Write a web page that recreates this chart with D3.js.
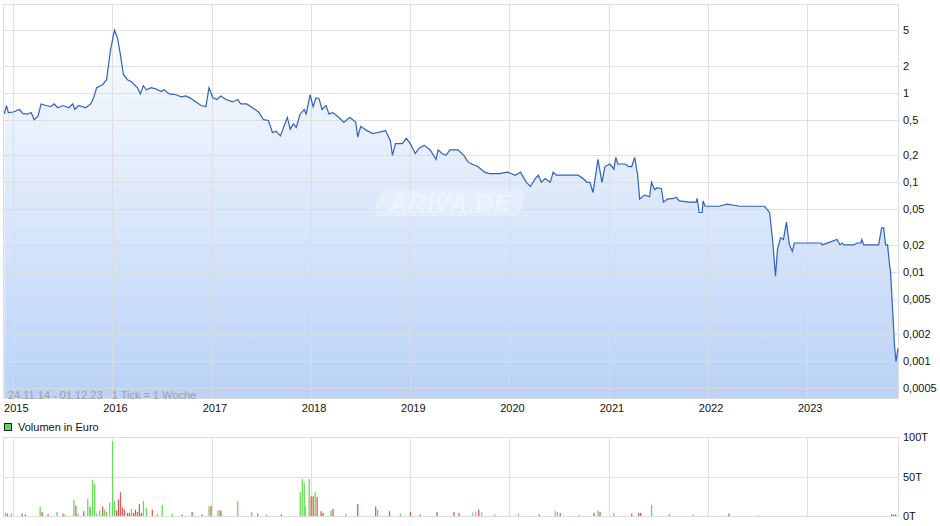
<!DOCTYPE html>
<html>
<head>
<meta charset="utf-8">
<script src="https://cdn.jsdelivr.net/npm/d3@7"></script>
<style>
  body { margin: 0; background: #fff; }
  text { font-family: "Liberation Sans", Arial, sans-serif; }
</style>
</head>
<body>
<svg id="chart" width="940" height="526"></svg>
<script>
// Price per week (decimal year, EUR)
const priceData = [
  [2014.91,0.58],[2014.93,0.72],[2014.95,0.60],[2015.00,0.61],[2015.06,0.65],[2015.10,0.58],
  [2015.15,0.58],[2015.18,0.60],[2015.21,0.50],[2015.25,0.55],[2015.28,0.75],[2015.33,0.72],
  [2015.38,0.70],[2015.41,0.75],[2015.45,0.68],[2015.50,0.72],[2015.56,0.68],[2015.60,0.75],
  [2015.62,0.65],[2015.66,0.72],[2015.73,0.68],[2015.78,0.75],[2015.81,0.88],[2015.84,1.14],
  [2015.90,1.23],[2015.94,1.40],[2015.98,3.0],[2016.02,5.0],[2016.05,4.1],[2016.08,2.65],
  [2016.11,1.6],[2016.15,1.4],[2016.19,1.33],[2016.22,1.23],[2016.25,1.14],[2016.28,0.97],
  [2016.31,1.2],[2016.34,1.08],[2016.39,1.14],[2016.44,1.10],[2016.49,1.03],[2016.52,1.08],
  [2016.57,0.97],[2016.64,0.95],[2016.69,0.90],[2016.74,0.92],[2016.79,0.86],[2016.84,0.79],
  [2016.89,0.72],[2016.94,0.70],[2016.97,1.14],[2017.01,0.88],[2017.05,0.84],[2017.09,0.92],
  [2017.14,0.84],[2017.21,0.79],[2017.26,0.84],[2017.29,0.75],[2017.35,0.75],[2017.41,0.68],
  [2017.47,0.61],[2017.52,0.50],[2017.57,0.49],[2017.61,0.36],[2017.65,0.37],[2017.69,0.33],
  [2017.73,0.43],[2017.76,0.53],[2017.79,0.39],[2017.82,0.45],[2017.85,0.41],[2017.89,0.58],
  [2017.93,0.65],[2017.95,0.58],[2017.99,0.95],[2018.02,0.70],[2018.05,0.88],[2018.08,0.86],
  [2018.11,0.65],[2018.15,0.72],[2018.18,0.58],[2018.22,0.60],[2018.28,0.53],[2018.33,0.47],
  [2018.39,0.53],[2018.45,0.47],[2018.47,0.32],[2018.50,0.42],[2018.56,0.38],[2018.62,0.35],
  [2018.67,0.36],[2018.72,0.37],[2018.75,0.38],[2018.80,0.29],[2018.82,0.20],[2018.85,0.27],
  [2018.92,0.27],[2018.96,0.31],[2019.00,0.27],[2019.05,0.21],[2019.09,0.24],[2019.14,0.26],
  [2019.20,0.23],[2019.26,0.18],[2019.28,0.23],[2019.32,0.21],[2019.36,0.20],[2019.40,0.23],
  [2019.48,0.23],[2019.54,0.20],[2019.58,0.17],[2019.62,0.16],[2019.68,0.15],[2019.75,0.13],
  [2019.80,0.125],[2019.90,0.125],[2019.98,0.13],[2020.06,0.12],[2020.11,0.13],[2020.17,0.10],
  [2020.21,0.09],[2020.26,0.11],[2020.29,0.12],[2020.32,0.10],[2020.36,0.11],[2020.41,0.10],
  [2020.44,0.13],[2020.47,0.12],[2020.53,0.12],[2020.61,0.12],[2020.69,0.12],[2020.74,0.11],
  [2020.78,0.10],[2020.81,0.10],[2020.84,0.077],[2020.89,0.18],[2020.93,0.10],[2020.96,0.15],
  [2021.01,0.16],[2021.05,0.14],[2021.07,0.19],[2021.09,0.16],[2021.16,0.16],[2021.20,0.15],
  [2021.23,0.15],[2021.26,0.19],[2021.29,0.12],[2021.31,0.065],[2021.36,0.072],[2021.41,0.069],
  [2021.43,0.10],[2021.46,0.083],[2021.49,0.087],[2021.53,0.085],[2021.55,0.060],[2021.59,0.065],
  [2021.65,0.066],[2021.68,0.068],[2021.71,0.062],[2021.81,0.060],[2021.88,0.060],[2021.89,0.066],
  [2021.91,0.046],[2021.94,0.046],[2021.95,0.062],[2021.97,0.054],[2022.11,0.054],[2022.19,0.057],
  [2022.32,0.054],[2022.57,0.054],[2022.62,0.046],[2022.65,0.023],[2022.68,0.009],[2022.70,0.018],
  [2022.73,0.024],[2022.76,0.023],[2022.79,0.036],[2022.82,0.020],[2022.85,0.017],[2022.87,0.021],
  [2023.14,0.021],[2023.15,0.020],[2023.30,0.023],[2023.33,0.020],[2023.35,0.021],[2023.37,0.020],
  [2023.47,0.020],[2023.50,0.021],[2023.54,0.021],[2023.55,0.023],[2023.57,0.020],[2023.72,0.020],
  [2023.75,0.031],[2023.77,0.031],[2023.79,0.020],[2023.81,0.020],[2023.83,0.012],[2023.84,0.010],
  [2023.88,0.0015],[2023.895,0.001],[2023.915,0.0014]
];

// Weekly volume (decimal year, thousand EUR, direction g/r/n)
const volumeData = [
  [2014.92,4,"g"],[2014.94,3,"r"],[2014.98,3,"g"],[2015.09,3,"r"],[2015.12,2,"r"],
  [2015.27,12,"g"],[2015.29,5,"r"],[2015.35,2,"r"],[2015.44,5,"g"],[2015.50,3,"r"],[2015.52,2,"g"],
  [2015.61,20,"g"],[2015.63,13,"r"],[2015.65,3,"g"],[2015.71,6,"r"],[2015.75,22,"g"],
  [2015.77,12,"g"],[2015.78,10,"g"],[2015.80,46,"g"],[2015.82,40,"g"],[2015.84,3,"g"],
  [2015.87,7,"g"],[2015.90,12,"r"],[2015.92,8,"g"],[2015.94,5,"g"],[2015.97,17,"g"],
  [2016.00,95,"g"],[2016.02,19,"g"],[2016.04,7,"r"],[2016.06,21,"r"],[2016.08,30,"r"],
  [2016.10,11,"r"],[2016.12,8,"r"],[2016.15,4,"r"],[2016.17,4,"r"],[2016.19,9,"g"],
  [2016.21,4,"r"],[2016.23,8,"r"],[2016.25,5,"r"],[2016.27,15,"r"],[2016.29,4,"r"],
  [2016.31,19,"g"],[2016.34,10,"g"],[2016.40,8,"r"],[2016.45,3,"g"],[2016.50,14,"g"],
  [2016.60,3,"g"],[2016.70,2,"r"],[2016.80,5,"r"],[2016.90,2,"r"],[2016.97,12,"g"],
  [2016.99,13,"r"],[2017.06,7,"g"],[2017.08,7,"g"],[2017.09,7,"r"],[2017.26,19,"g"],
  [2017.40,5,"g"],[2017.46,3,"r"],[2017.55,2,"g"],[2017.70,2,"r"],[2017.89,30,"g"],
  [2017.91,47,"g"],[2017.93,42,"g"],[2017.94,12,"g"],[2017.98,47,"g"],[2018.00,25,"r"],
  [2018.02,25,"r"],[2018.04,30,"g"],[2018.06,24,"r"],[2018.10,6,"r"],[2018.12,4,"r"],
  [2018.20,7,"g"],[2018.22,9,"r"],[2018.35,3,"g"],[2018.47,15,"r"],[2018.65,12,"r"],
  [2018.67,8,"g"],[2018.79,6,"r"],[2018.90,3,"g"],[2019.00,5,"r"],[2019.10,2,"r"],
  [2019.27,5,"r"],[2019.44,5,"r"],[2019.49,4,"r"],[2019.63,5,"n"],[2019.66,6,"n"],
  [2019.69,8,"r"],[2019.72,5,"n"],[2019.85,2,"g"],[2020.09,3,"g"],[2020.30,2,"r"],
  [2020.46,7,"n"],[2020.48,5,"g"],[2020.51,4,"r"],[2020.70,2,"n"],[2020.85,4,"r"],
  [2020.89,7,"g"],[2020.91,5,"r"],[2021.05,4,"g"],[2021.23,3,"r"],[2021.30,4,"r"],
  [2021.32,4,"r"],[2021.43,14,"g"],[2021.61,2,"r"],[2021.85,2,"g"],[2022.21,3,"r"],
  [2022.50,1,"g"],[2023.85,2,"r"],[2023.87,2,"r"],[2023.89,2,"r"]
];

const priceTicks = [5, 2, 1, 0.5, 0.2, 0.1, 0.05, 0.02, 0.01, 0.005, 0.002, 0.001, 0.0005];
const volumeTicks = [0, 50, 100];
const yearTicks = [2015, 2016, 2017, 2018, 2019, 2020, 2021, 2022, 2023];

const toDate = (yr) => {
  const y = Math.floor(yr);
  const start = new Date(y, 0, 1), end = new Date(y + 1, 0, 1);
  return new Date(+start + (yr - y) * (end - start));
};

const svg = d3.select("#chart");
const left = 3, right = 898;
const main = { top: 4, bottom: 398 };
const vol = { top: 437, bottom: 516 };
const gridColor = "#dcdcdc";
const fmt = d3.format(",");
const deFmt = (v) => String(v).replace(".", ",");

const x = d3.scaleTime()
  .domain([new Date(2014, 10, 24), new Date(2023, 11, 1)])
  .range([left, right]);
const y = d3.scaleLog().domain([0.00039, 9.8]).range([main.bottom, main.top]);
const yv = d3.scaleLinear().domain([0, 100]).range([vol.bottom, vol.top]);

// gradient
const defs = svg.append("defs");
const grad = defs.append("linearGradient").attr("id", "fill")
  .attr("gradientUnits", "userSpaceOnUse")
  .attr("x1", 0).attr("x2", 0).attr("y1", main.top).attr("y2", main.bottom);
grad.append("stop").attr("offset", "0%").attr("stop-color", "#ffffff");
grad.append("stop").attr("offset", "100%").attr("stop-color", "#bad2f7");

// area + line
const pts = priceData.map(([t, v]) => [toDate(t), v]);
svg.append("path").datum(pts)
  .attr("fill", "url(#fill)")
  .attr("d", d3.area().x(d => x(d[0])).y0(main.bottom).y1(d => y(d[1])));

// grid
const grid = svg.append("g").attr("stroke", gridColor).attr("stroke-width", 1).attr("opacity", 0.85);
priceTicks.forEach(v => grid.append("line")
  .attr("x1", left).attr("x2", right).attr("y1", Math.round(y(v)) + 0.5).attr("y2", Math.round(y(v)) + 0.5));
yearTicks.forEach(yr => {
  const px = Math.round(x(new Date(yr, 0, 1))) + 0.5;
  grid.append("line").attr("x1", px).attr("x2", px).attr("y1", main.top).attr("y2", main.bottom);
  grid.append("line").attr("x1", px).attr("x2", px).attr("y1", vol.top).attr("y2", vol.bottom);
});
volumeTicks.forEach(v => grid.append("line")
  .attr("x1", left).attr("x2", right).attr("y1", Math.round(yv(v)) + 0.5).attr("y2", Math.round(yv(v)) + 0.5));

// frames
[main, vol].forEach(p => svg.append("rect")
  .attr("x", left + 0.5).attr("y", p.top + 0.5)
  .attr("width", right - left).attr("height", p.bottom - p.top)
  .attr("fill", "none").attr("stroke", gridColor));

// watermark
const wm = svg.append("g").attr("transform", "translate(450,203)");
wm.append("rect").attr("x", -73).attr("y", -13).attr("width", 146).attr("height", 26)
  .attr("rx", 6).attr("fill", "#ffffff").attr("opacity", 0.25).attr("transform", "skewX(-15)");
wm.append("text").attr("text-anchor", "middle").attr("y", 9).attr("font-size", 26)
  .attr("font-style", "italic").attr("font-weight", "bold").attr("fill", "#ffffff").attr("opacity", 0.35)
  .text("ARIVA.DE");

svg.append("path").datum(pts)
  .attr("fill", "none").attr("stroke", "#2d62c4").attr("stroke-width", 1.2)
  .attr("d", d3.line().x(d => x(d[0])).y(d => y(d[1])));

// range text
svg.append("text").attr("x", 8).attr("y", 399).attr("font-size", 11).attr("fill", "#a0a0a0")
  .attr("xml:space", "preserve").style("white-space", "pre")
  .text("24.11.14 - 01.12.23   1 Tick = 1 Woche");

// axis labels
const yl = svg.append("g").attr("font-size", 11).attr("fill", "#111");
priceTicks.forEach(v => yl.append("text").attr("x", 903).attr("y", y(v) + 4).text(deFmt(v)));
volumeTicks.forEach(v => yl.append("text").attr("x", 903).attr("y", yv(v) + 4).text(fmt(v) + "T"));
yearTicks.forEach(yr => yl.append("text").attr("x", x(new Date(yr, 0, 1)) + 3).attr("y", 412)
  .attr("text-anchor", "middle").text(yr));

// legend
svg.append("rect").attr("x", 4.5).attr("y", 423.5).attr("width", 7).attr("height", 7)
  .attr("fill", "#5fd35a").attr("stroke", "#222");
svg.append("text").attr("x", 18).attr("y", 431).attr("font-size", 11).attr("fill", "#111")
  .text("Volumen in Euro");

// volume bars
const colors = { g: "#66dd55", r: "#dd5a5a", n: "#bbbbbb" };
svg.append("g").selectAll("rect").data(volumeData).enter().append("rect")
  .attr("x", d => x(toDate(d[0])) - 0.6)
  .attr("width", 1.3)
  .attr("y", d => yv(d[1]))
  .attr("height", d => vol.bottom - yv(d[1]))
  .attr("fill", d => colors[d[2]]);
</script>
</body>
</html>
